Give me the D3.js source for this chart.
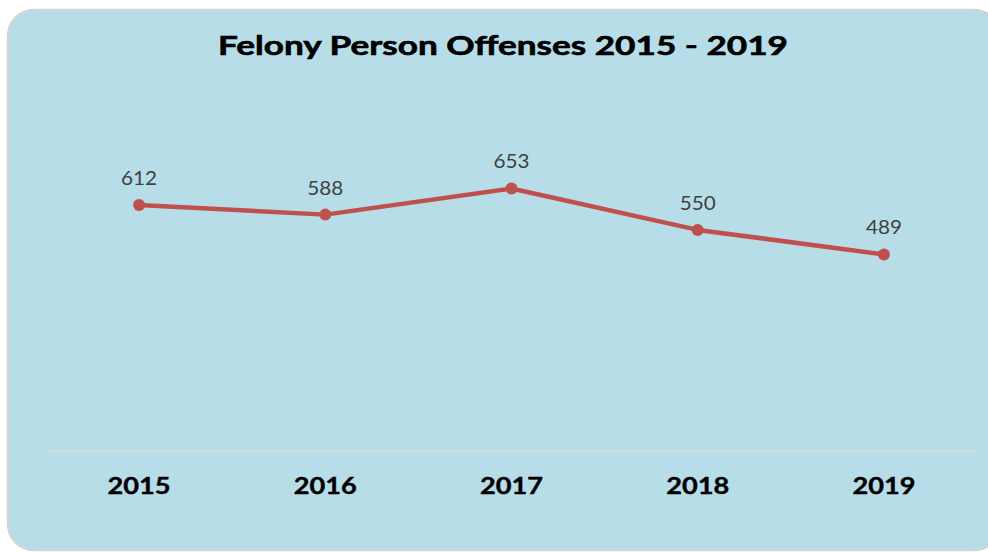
<!DOCTYPE html>
<html lang="en">
<head>
  <meta charset="UTF-8">
  <title>Felony Person Offenses</title>
  <style>
    body { margin: 0; background: #fff; }
  </style>
</head>
<body>
  <svg id="svg" width="988" height="552"></svg>

  <script src="https://d3js.org/d3.v7.min.js"></script>
  <script>
    const years = ['2015', '2016', '2017', '2018', '2019']
    const offenses = [612, 588, 653, 550, 489]
    const title = 'Felony Person Offenses 2015 - 2019'

    const svg = d3.select('#svg')
    const font = 'Lato, "Open Sans", sans-serif'

    // panel with rounded corners, its right side runs past the page edge
    svg.append('rect')
      .attr('x', 8)
      .attr('y', 10)
      .attr('width', 992)
      .attr('height', 540)
      .attr('rx', 26)
      .attr('fill', '#b7dde8')
      .attr('stroke', '#d4d4d4')
      .attr('stroke-width', 2.5)

    const xScale = d3.scalePoint()
      .domain(years)
      .range([46, 977])
      .padding(0.5)

    const yScale = d3.scaleLinear()
      .domain([0, 800])
      .range([451, 129.4])

    // category axis baseline
    svg.append('line')
      .attr('x1', 46)
      .attr('x2', 977)
      .attr('y1', yScale(0))
      .attr('y2', yScale(0))
      .attr('stroke', '#d9d9d9')
      .attr('stroke-width', 2)

    // the source text is stretched sideways, so textLength widens it
    svg.append('g')
      .selectAll('text')
      .data(years)
      .enter()
      .append('text')
      .text(d => d)
      .attr('x', d => xScale(d) - 31.5)
      .attr('y', 494)
      .attr('textLength', 63)
      .attr('lengthAdjust', 'spacingAndGlyphs')
      .style('font-family', font)
      .style('font-weight', 'bold')
      .style('font-size', '23px')
      .attr('fill', '#000')
      .attr('stroke', '#000')
      .attr('stroke-width', 0.4)

    const points = years.map((y, i) => ({ year: y, value: offenses[i] }))

    svg.append('path')
      .datum(points)
      .attr('d', d3.line().x(d => xScale(d.year)).y(d => yScale(d.value)))
      .attr('fill', 'none')
      .attr('stroke', '#c0504d')
      .attr('stroke-width', 4.5)
      .attr('stroke-linejoin', 'round')

    const node = svg.append('g')
      .selectAll('g')
      .data(points)
      .enter()
      .append('g')

    node.append('circle')
      .attr('cx', d => xScale(d.year))
      .attr('cy', d => yScale(d.value))
      .attr('r', 6)
      .attr('fill', '#c0504d')

    node.append('text')
      .text(d => d.value)
      .attr('x', d => xScale(d.year) - 18)
      .attr('y', d => yScale(d.value) - 20)
      .attr('textLength', 36)
      .attr('lengthAdjust', 'spacingAndGlyphs')
      .style('font-family', font)
      .style('font-size', '19.5px')
      .attr('fill', '#404040')

    svg.append('text')
      .text(title)
      .attr('x', 218)
      .attr('y', 55)
      .attr('textLength', 570)
      .attr('lengthAdjust', 'spacingAndGlyphs')
      .style('font-family', font)
      .style('font-weight', 'bold')
      .style('font-size', '26px')
      .attr('fill', '#000')
      .attr('stroke', '#000')
      .attr('stroke-width', 0.6)
  </script>
</body>
</html>
